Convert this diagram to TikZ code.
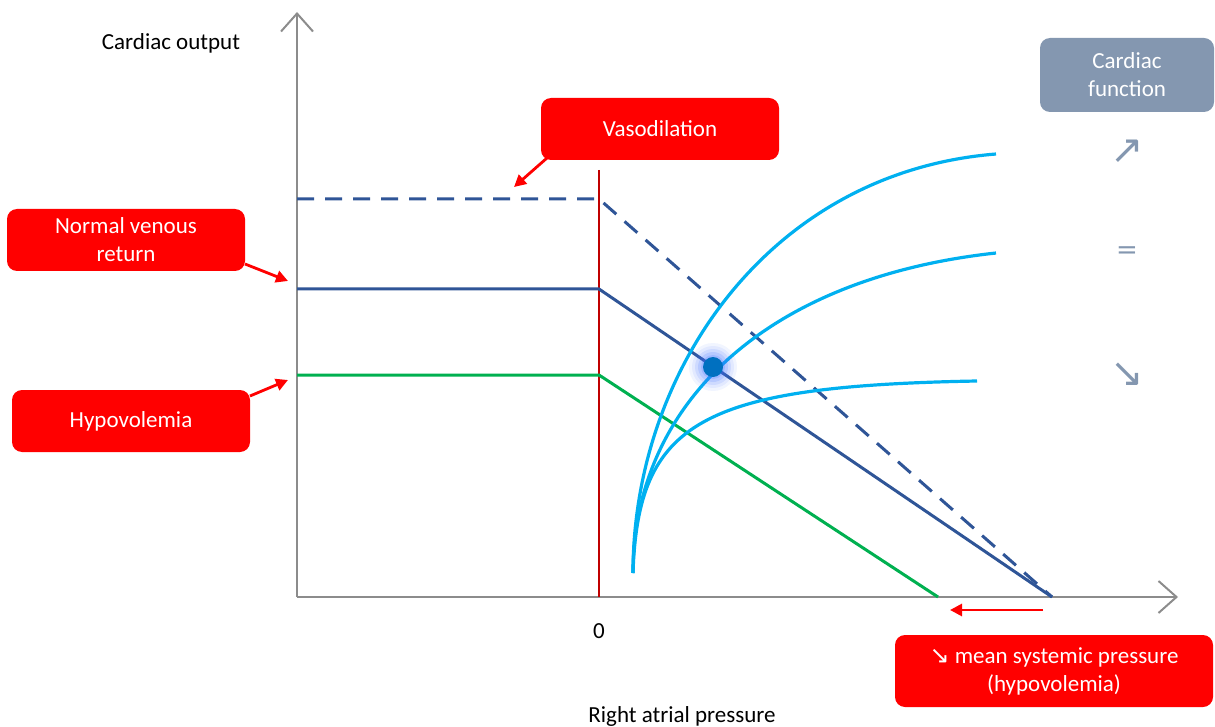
\documentclass[tikz,border=0pt]{standalone}
\usepackage{fontspec}
\setmainfont{Carlito}
\newfontfamily\symfont{DejaVu Sans}
\usetikzlibrary{arrows.meta}
\definecolor{axisgray}{HTML}{8C8C8C}
\definecolor{navy}{HTML}{2F5597}
\definecolor{grn}{HTML}{00B050}
\definecolor{cyanc}{HTML}{00B0F0}
\definecolor{dotblue}{HTML}{0070C0}
\definecolor{glowblue}{HTML}{3F6FFF}
\definecolor{slate}{HTML}{8497B0}
\definecolor{darkred}{HTML}{C00000}
\definecolor{boxred}{HTML}{FF0000}
\tikzset{
  axis/.style={draw=axisgray, line width=1pt, -{Straight Barb[length=9pt,width=16pt,line width=1pt]}},
  vr/.style={draw=navy, line width=1.5pt, line join=round},
  curve/.style={draw=cyanc, line width=1.6pt},
  redbox/.style={fill=boxred, text=white, rounded corners=5pt, align=center, inner sep=0pt,
    font=\fontsize{11.5}{14}\selectfont},
  slatebox/.style={fill=slate, text=white, rounded corners=5pt, align=center, inner sep=0pt,
    font=\fontsize{11.5}{14}\selectfont},
  redarrow/.style={draw=boxred, line width=1.4pt, -{Triangle[length=6pt,width=6pt]}},
  lbl/.style={font=\fontsize{11.5}{14}\selectfont},
  sym/.style={text=slate, font=\symfont\fontsize{20}{22}\selectfont},
}
\begin{document}
\begin{tikzpicture}[x=0.5pt,y=-0.5pt]
\useasboundingbox (0,0) rectangle (1215,727);
% axes
\coordinate (O) at (297,597);
\coordinate (ytop) at (297,12);
\coordinate (xend) at (1178,597);
\draw[axis] (O) -- (ytop);
\draw[axis] (O) -- (xend);
\node[lbl] (ylab) at (171,43) {Cardiac output};
\node[lbl] (xlab) at (682,716) {Right atrial pressure};
\node[lbl] (zero) at (599,631) {0};
% zero line
\coordinate (zl1) at (599,170);
\coordinate (zl2) at (599,597);
\draw[darkred, line width=0.9pt] (zl1) -- (zl2);
% venous return lines
\coordinate (d1) at (297,199); \coordinate (d2) at (599,199); \coordinate (d3) at (1052,597);
\draw[vr, dash pattern=on 8.5pt off 5.5pt] (d1) -- (d2) -- (d3);
\coordinate (n1) at (297,289); \coordinate (n2) at (599,289); \coordinate (n3) at (1052,597);
\draw[vr] (n1) -- (n2) -- (n3);
\coordinate (g1) at (297,375); \coordinate (g2) at (599,375); \coordinate (g3) at (938,597);
\draw[vr, draw=grn] (g1) -- (g2) -- (g3);
% cardiac function curves
\coordinate (c0) at (633,573);
\coordinate (ctop) at (996,154);
\coordinate (cmid) at (996,253);
\coordinate (cbot) at (977,381);
\draw[curve] (c0) .. controls (633,370) and (770,172) .. (ctop);
\draw[curve] (c0) .. controls (633,405) and (765,278) .. (cmid);
\draw[curve] (c0) .. controls (638,422) and (700,386) .. (cbot);
% equilibrium point
\coordinate (eq) at (713,367);
\foreach \r/\o in {24/0.07,21/0.09,18/0.12,15/0.16,12/0.2}
  \fill[glowblue, opacity=\o] (eq) circle[radius=\r];
\fill[dotblue] (eq) circle[radius=10];
% boxes
\node[redbox, minimum width=119pt, minimum height=31pt] (vaso) at (660,129) {\raisebox{-1pt}{Vasodilation}};
\node[redbox, minimum width=119pt, minimum height=31pt] (nvr) at (126,240) {Normal venous\\return};
\node[redbox, minimum width=119pt, minimum height=31pt] (hypo) at (131,421) {\raisebox{-1pt}{Hypovolemia}};
\node[redbox, minimum width=159pt, minimum height=36pt] (msp) at (1054,671) {{\symfont\fontsize{12}{14}\selectfont ↘} mean systemic pressure\\(hypovolemia)};
\node[slatebox, minimum width=87pt, minimum height=37pt] (cf) at (1127,75) {Cardiac\\function};
% symbols
\node[sym] (up) at (1127,152) {↗};
\node[sym, font=\symfont\fontsize{13}{15}\selectfont] (eqs) at (1127,253) {=};
\node[sym] (down) at (1127,375) {↘};
% red arrows
\coordinate (va) at (547,158); \coordinate (vb) at (514,187);
\draw[redarrow] (va) -- (vb);
\coordinate (na) at (245,264); \coordinate (nb) at (288,281);
\draw[redarrow] (na) -- (nb);
\coordinate (ha) at (250,396); \coordinate (hb) at (288,380);
\draw[redarrow] (ha) -- (hb);
\coordinate (ma) at (1043,610); \coordinate (mb) at (950,610);
\draw[redarrow] (ma) -- (mb);
\end{tikzpicture}
\end{document}
